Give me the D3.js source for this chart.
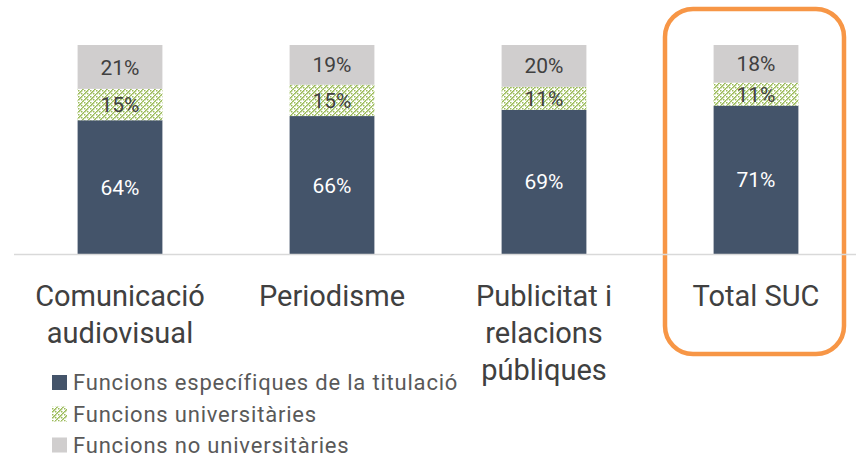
<!DOCTYPE html>
<html lang="ca">
<head>
<meta charset="utf-8">
<script src="https://d3js.org/d3.v7.min.js"></script>
<style>
  body { margin: 0; background: #fff; }
  svg { display: block; font-family: Roboto, "Open Sans", sans-serif; }
</style>
</head>
<body>
<svg id="chart" width="856" height="457"></svg>
<script>
  var categories = [["Comunicació", "audiovisual"], ["Periodisme"], ["Publicitat i", "relacions", "públiques"], ["Total SUC"]];
  var especifiques = [64, 66, 69, 71];
  var universitaries = [15, 15, 11, 11];
  var noUniversitaries = [21, 19, 20, 18];
  var seriesNames = ["Funcions específiques de la titulació", "Funcions universitàries", "Funcions no universitàries"];

  var svg = d3.select("svg#chart");

  // hatch pattern for the middle series
  var defs = svg.append("defs");
  var pat = defs.append("pattern")
      .attr("id", "hatch")
      .attr("patternUnits", "userSpaceOnUse")
      .attr("width", 6).attr("height", 6);
  pat.append("rect").attr("width", 6).attr("height", 6).attr("fill", "#fff");
  [[0,0],[3,3],[2,1],[1,2],[5,4],[4,5],[0,3],[3,0]].forEach(function(p) {
    pat.append("rect").attr("x", p[0]).attr("y", p[1]).attr("width", 1.5).attr("height", 1.5).attr("fill", "#9bbb59");
  });

  var colors = ["#44546a", "url(#hatch)", "#d0cece"];

  var x = d3.scaleBand()
      .domain(d3.range(categories.length))
      .range([14, 862])
      .paddingInner(0.6)
      .paddingOuter(0.3);

  var y = d3.scaleLinear()
      .domain([0, 100])
      .range([254, 45]);

  var rows = categories.map(function(c, i) {
    return {i: i, a: especifiques[i], b: universitaries[i], c: noUniversitaries[i]};
  });
  var stack = d3.stack().keys(["a", "b", "c"])(rows);

  // orange highlight box
  svg.append("rect")
      .attr("x", 665).attr("y", 9)
      .attr("width", 179).attr("height", 345)
      .attr("rx", 28).attr("ry", 28)
      .attr("fill", "none")
      .attr("stroke", "#f79646")
      .attr("stroke-width", 4.5);

  var layer = svg.selectAll("g.layer")
    .data(stack)
    .enter().append("g")
      .attr("class", "layer");

  layer.selectAll("rect")
    .data(function(d) { return d; })
    .enter().append("rect")
      .attr("x", function(d) { return x(d.data.i); })
      .attr("width", x.bandwidth())
      .attr("y", function(d) { return y(d[1]); })
      .attr("height", function(d) { return y(d[0]) - y(d[1]); })
      .attr("fill", function(d, i, n) { return colors[d3.select(n[i].parentNode).datum().index]; });

  layer.selectAll("text")
    .data(function(d) { return d; })
    .enter().append("text")
      .attr("x", function(d) { return x(d.data.i) + x.bandwidth() / 2; })
      .attr("y", function(d) { return (y(d[0]) + y(d[1])) / 2; })
      .attr("dy", "0.36em")
      .attr("text-anchor", "middle")
      .attr("font-size", 21)
      .attr("fill", function(d, i, n) { return d3.select(n[i].parentNode).datum().index === 0 ? "#fff" : "#404040"; })
      .text(function(d) { return (d[1] - d[0]) + "%"; });

  // axis line
  svg.append("line")
      .attr("x1", 14).attr("x2", 856)
      .attr("y1", y(0) + 0.5).attr("y2", y(0) + 0.5)
      .attr("stroke", "#d9d9d9")
      .attr("stroke-width", 1.5);

  // category labels
  var cat = svg.selectAll("text.cat")
    .data(categories)
    .enter().append("text")
      .attr("class", "cat")
      .attr("text-anchor", "middle")
      .attr("font-size", 29)
      .attr("fill", "#404040");
  cat.selectAll("tspan")
    .data(function(d, i) { return d.map(function(t) { return {t: t, i: i}; }); })
    .enter().append("tspan")
      .attr("x", function(d) { return x(d.i) + x.bandwidth() / 2; })
      .attr("y", function(d, j) { return 306 + j * 37; })
      .text(function(d) { return d.t; });

  // legend
  var leg = svg.selectAll("g.leg")
    .data(seriesNames)
    .enter().append("g")
      .attr("class", "leg")
      .attr("transform", function(d, i) { return "translate(52," + [382.5, 414, 445][i] + ")"; });
  leg.append("rect")
      .attr("x", 0).attr("y", -7.5)
      .attr("width", 15).attr("height", 15)
      .attr("fill", function(d, i) { return colors[i]; });
  leg.append("text")
      .attr("x", 21)
      .attr("dy", "0.36em")
      .attr("font-size", 22)
      .attr("letter-spacing", 0.8)
      .attr("fill", "#595959")
      .text(function(d) { return d; });
</script>
</body>
</html>
